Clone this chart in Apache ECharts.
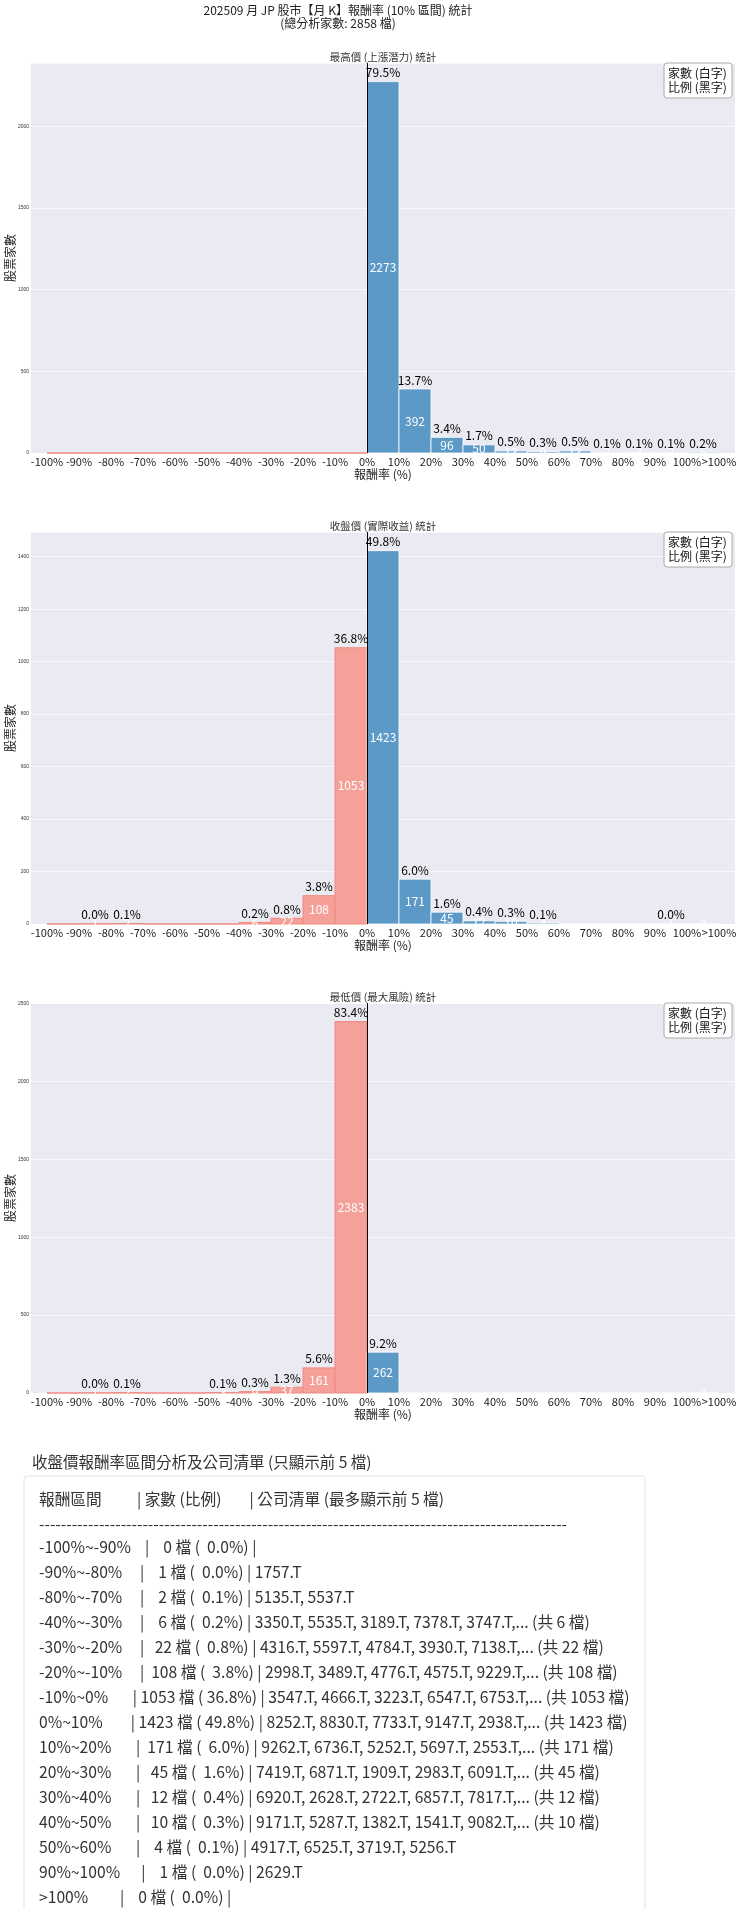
<!DOCTYPE html>
<html>
<head>
<meta charset="utf-8">
<script src="https://cdn.jsdelivr.net/npm/echarts@6/dist/echarts.min.js"></script>
<style>
  html, body { margin: 0; padding: 0; background: #fff; }
  #main { width: 740px; height: 1909px; }
</style>
</head>
<body>
<div id="main"></div>
<script>
// 區間與標籤
var tickValues = [-100, -90, -80, -70, -60, -50, -40, -30, -20, -10, 0, 10, 20, 30, 40, 50, 60, 70, 80, 90, 100, 110];
var tickLabels = ['-100%', '-90%', '-80%', '-70%', '-60%', '-50%', '-40%', '-30%', '-20%', '-10%', '0%', '10%', '20%', '30%', '40%', '50%', '60%', '70%', '80%', '90%', '100%', '>100%'];
var binStarts = [-100, -90, -80, -70, -60, -50, -40, -30, -20, -10, 0, 10, 20, 30, 40, 50, 60, 70, 80, 90, 100];
var rangeLabels = ['-100%~-90%', '-90%~-80%', '-80%~-70%', '-70%~-60%', '-60%~-50%', '-50%~-40%', '-40%~-30%', '-30%~-20%', '-20%~-10%', '-10%~0%',
  '0%~10%', '10%~20%', '20%~30%', '30%~40%', '40%~50%', '50%~60%', '60%~70%', '70%~80%', '80%~90%', '90%~100%', '>100%'];

// 家數
var highCounts  = [0, 0, 0, 0, 0, 0, 0, 0, 0, 0, 2273, 392, 96, 50, 13, 9, 13, 2, 3, 2, 5];
var closeCounts = [0, 1, 2, 0, 0, 0, 6, 22, 108, 1053, 1423, 171, 45, 12, 10, 4, 0, 0, 0, 1, 0];
var lowCounts   = [0, 1, 2, 0, 0, 3, 9, 37, 161, 2383, 262, 0, 0, 0, 0, 0, 0, 0, 0, 0, 0];

var panelTitles = ['最高價 (上漲潛力) 統計', '收盤價 (實際收益) 統計', '最低價 (最大風險) 統計'];

// 收盤價各區間公司 (前 5 檔)
var closeCompanies = [
  [], ['1757.T'], ['5135.T', '5537.T'], [], [], [],
  ['3350.T', '5535.T', '3189.T', '7378.T', '3747.T'],
  ['4316.T', '5597.T', '4784.T', '3930.T', '7138.T'],
  ['2998.T', '3489.T', '4776.T', '4575.T', '9229.T'],
  ['3547.T', '4666.T', '3223.T', '6547.T', '6753.T'],
  ['8252.T', '8830.T', '7733.T', '9147.T', '2938.T'],
  ['9262.T', '6736.T', '5252.T', '5697.T', '2553.T'],
  ['7419.T', '6871.T', '1909.T', '2983.T', '6091.T'],
  ['6920.T', '2628.T', '2722.T', '6857.T', '7817.T'],
  ['9171.T', '5287.T', '1382.T', '1541.T', '9082.T'],
  ['4917.T', '6525.T', '3719.T', '5256.T'],
  [], [], [], ['2629.T'], []
];

var FONT = "'Noto Sans CJK TC', 'Noto Sans', sans-serif";
var BLUE = '#5c99c7';
var RED = '#f5a098';

var chartDom = document.getElementById('main');
var myChart = echarts.init(chartDom, null, { renderer: 'canvas' });

var panelTops = [63, 532, 1003];
var panelHeights = [390, 392, 390];
var yIntervals = [500, 200, 500];
var allCounts = [highCounts, closeCounts, lowCounts];

function sum(a) { return a.reduce(function (s, v) { return s + v; }, 0); }

function makeRender(total) {
  return function (params, api) {
    var start = api.value(0);
    var count = api.value(1);
    var p0 = api.coord([start, count]);
    var p1 = api.coord([start + 10, 0]);
    var neg = start < 0;
    var w = p1[0] - p0[0];
    var h = p1[1] - p0[1];
    var children = [{
      type: 'rect',
      shape: { x: p0[0], y: p0[1], width: w, height: h },
      style: { fill: neg ? RED : BLUE, stroke: neg ? '#f08a7e' : 'rgba(255,255,255,0.8)', lineWidth: 1 }
    }];
    if (count > 0 || params.dataIndex === binStarts.length - 1) {
      children.push({
        type: 'text', z2: 5,
        x: p0[0] + w / 2, y: p0[1] + h / 2,
        style: { text: String(count), fill: '#fff', font: '12px ' + FONT, align: 'center', verticalAlign: 'middle' }
      });
    }
    if (count > 0) {
      children.push({
        type: 'text', z2: 6,
        x: p0[0] + w / 2, y: p0[1] - 3,
        style: { text: (count / total * 100).toFixed(1) + '%', fill: '#000', font: '12px ' + FONT, align: 'center', verticalAlign: 'bottom' }
      });
    }
    return { type: 'group', children: children };
  };
}

var grids = [], xAxes = [], yAxes = [], series = [], graphics = [];

allCounts.forEach(function (counts, i) {
  var total = sum(counts);
  grids.push({
    left: 31, right: 5, top: panelTops[i], height: panelHeights[i],
    outerBoundsMode: 'none', containLabel: false,
    show: true, backgroundColor: '#eaeaf2', borderWidth: 0
  });
  xAxes.push({
    type: 'value', gridIndex: i, min: -105, max: 115,
    name: '報酬率 (%)', nameLocation: 'middle', nameGap: 15, nameMoveOverlap: false,
    nameTextStyle: { fontSize: 12, color: '#222', fontFamily: FONT },
    axisLine: { show: false }, axisTick: { show: false, customValues: tickValues },
    splitLine: { show: false },
    axisLabel: {
      customValues: tickValues, fontSize: 11, color: '#222', fontFamily: FONT, margin: 3,
      hideOverlap: false,
      formatter: function (v) { return tickLabels[tickValues.indexOf(v)]; }
    }
  });
  yAxes.push({
    type: 'value', gridIndex: i, min: 0, interval: yIntervals[i],
    max: function (v) { return v.max * 1.05; },
    name: '股票家數', nameLocation: 'middle', nameGap: 15, nameRotate: 90, nameMoveOverlap: false,
    nameTextStyle: { fontSize: 12, color: '#222', fontFamily: FONT },
    axisLine: { show: false }, axisTick: { show: false },
    splitLine: { show: true, lineStyle: { color: 'rgba(255,255,255,0.7)', width: 1 } },
    axisLabel: {
      fontSize: 5, color: '#333', margin: 2, showMaxLabel: false,
      formatter: function (v) { return String(v); }
    }
  });
  series.push({
    type: 'custom', xAxisIndex: i, yAxisIndex: i,
    renderItem: makeRender(total),
    encode: { x: 0, y: 1 },
    data: binStarts.map(function (s, k) { return [s, counts[k]]; }),
    markLine: {
      silent: true, symbol: ['none', 'none'], animation: false,
      label: { show: false },
      lineStyle: { color: '#000', width: 1, type: 'solid' },
      data: [{ xAxis: 0 }]
    },
    z: 2
  });
  // 子圖標題
  graphics.push({
    type: 'text', x: 383, y: panelTops[i] - 6,
    style: { text: panelTitles[i], font: '10.5px ' + FONT, fill: '#333', align: 'center', verticalAlign: 'middle' }
  });
  // 圖例說明框
  graphics.push({
    type: 'rect', z: 10, shape: { x: 664, y: panelTops[i], width: 68, height: 35, r: 3 },
    style: { fill: '#fff', stroke: '#aaa', lineWidth: 1 }
  });
  graphics.push({
    type: 'text', z: 11, x: 668, y: panelTops[i] + 10,
    style: { text: '家數 (白字)', font: '12px ' + FONT, fill: '#111', align: 'left', verticalAlign: 'middle' }
  });
  graphics.push({
    type: 'text', z: 11, x: 668, y: panelTops[i] + 24,
    style: { text: '比例 (黑字)', font: '12px ' + FONT, fill: '#111', align: 'left', verticalAlign: 'middle' }
  });
});

// 總標題
var totalAll = sum(closeCounts);
graphics.push({
  type: 'text', x: 338, y: 10,
  style: { text: '202509 月 JP 股市【月 K】報酬率 (10% 區間) 統計', font: '12px ' + FONT, fill: '#222', align: 'center', verticalAlign: 'middle' }
});
graphics.push({
  type: 'text', x: 338, y: 23,
  style: { text: '(總分析家數: ' + totalAll + ' 檔)', font: '12px ' + FONT, fill: '#222', align: 'center', verticalAlign: 'middle' }
});

// 收盤價區間清單
function padEnd(s, n) { while (s.length < n) s += ' '; return s; }
function padStart(s, n) { while (s.length < n) s = ' ' + s; return s; }

graphics.push({
  type: 'text', x: 32, y: 1462,
  style: { text: '收盤價報酬率區間分析及公司清單 (只顯示前 5 檔)', font: '15.5px ' + FONT, fill: '#333', align: 'left', verticalAlign: 'middle' }
});
graphics.push({
  type: 'rect', shape: { x: 24, y: 1476, width: 621, height: 460, r: 3 },
  style: { fill: '#fff', stroke: '#e3e3e3', lineWidth: 1 }
});
var lines = [];
lines.push(padEnd('報酬區間', 14) + '| ' + padEnd('家數 (比例)', 15) + '| 公司清單 (最多顯示前 5 檔)');
lines.push(new Array(98).join('-'));
closeCounts.forEach(function (c, k) {
  if (c === 0 && k !== 0 && k !== closeCounts.length - 1) return;
  var list = closeCompanies[k].join(', ');
  if (c > 5) list += ',... (共 ' + c + ' 檔)';
  lines.push(padEnd(rangeLabels[k], 14) + '| ' + padStart(String(c), 4) + ' 檔 (' +
    padStart((c / totalAll * 100).toFixed(1), 5) + '%) | ' + list);
});
lines.forEach(function (t, k) {
  var y = k === 0 ? 1499 : (k === 1 ? 1524 : 1547 + (k - 2) * 25);
  graphics.push({
    type: 'text', x: 39, y: y,
    style: { text: t, font: '15.7px ' + FONT, fill: '#333', align: 'left', verticalAlign: 'middle' }
  });
});

var option = {
  animation: false,
  backgroundColor: '#fff',
  grid: grids,
  xAxis: xAxes,
  yAxis: yAxes,
  series: series,
  graphic: graphics
};

option && myChart.setOption(option);
</script>
</body>
</html>
